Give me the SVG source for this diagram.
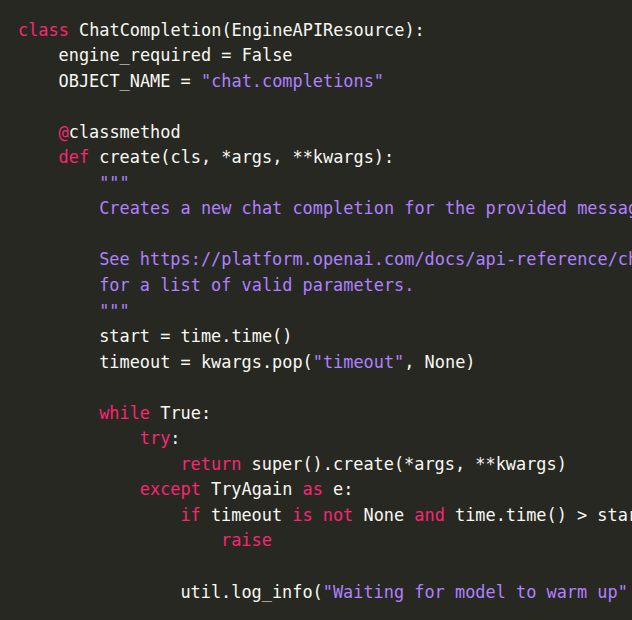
<svg xmlns="http://www.w3.org/2000/svg" width="632" height="620" viewBox="0 0 632 620">
<style>
text{font-family:"DejaVu Sans Mono","Liberation Mono",monospace;font-size:16.9px;fill:#F8F8F2;white-space:pre}
.k{fill:#F92672}
.s{fill:#AE81FF}
</style>
<defs><clipPath id="c"><rect x="0" y="0" width="632" height="620"/></clipPath></defs>
<rect width="632" height="620" fill="#272822"/>
<g id="code" clip-path="url(#c)">
<text x="18" y="35.5"><tspan class="k">class</tspan> ChatCompletion(EngineAPIResource):</text>
<text x="58.6" y="61"><tspan>engine_required = False</tspan></text>
<text x="58.6" y="86.6">OBJECT_NAME = <tspan class="s">"chat.completions"</tspan></text>
<text x="58.6" y="137.7"><tspan class="k">@</tspan>classmethod</text>
<text x="58.6" y="163.2"><tspan class="k">def</tspan> create(cls, *args, **kwargs):</text>
<text x="99.2" y="188.8" class="s">"""</text>
<text x="99.2" y="214.3" class="s">Creates a new chat completion for the provided messag</text>
<text x="99.2" y="265.4" class="s">See https://platform.openai.com/docs/api-reference/ch</text>
<text x="99.2" y="290.9" class="s">for a list of valid parameters.</text>
<text x="99.2" y="316.5" class="s">"""</text>
<text x="99.2" y="342">start = time.time()</text>
<text x="99.2" y="367.6">timeout = kwargs.pop(<tspan class="s">"timeout"</tspan>, None)</text>
<text x="99.2" y="418.7"><tspan class="k">while</tspan> True:</text>
<text x="139.8" y="444.2"><tspan class="k">try</tspan>:</text>
<text x="180.4" y="469.8"><tspan class="k">return</tspan> super().create(*args, **kwargs)</text>
<text x="139.8" y="495.3"><tspan class="k">except</tspan> TryAgain <tspan class="k">as</tspan> e:</text>
<text x="180.4" y="520.9"><tspan class="k">if</tspan> timeout <tspan class="k">is</tspan> <tspan class="k">not</tspan> None <tspan class="k">and</tspan> time.time() &gt; star</text>
<text x="221" y="546.4" class="k">raise</text>
<text x="180.4" y="597.5">util.log_info(<tspan class="s">"Waiting for model to warm up"</tspan></text>
</g>
</svg>
